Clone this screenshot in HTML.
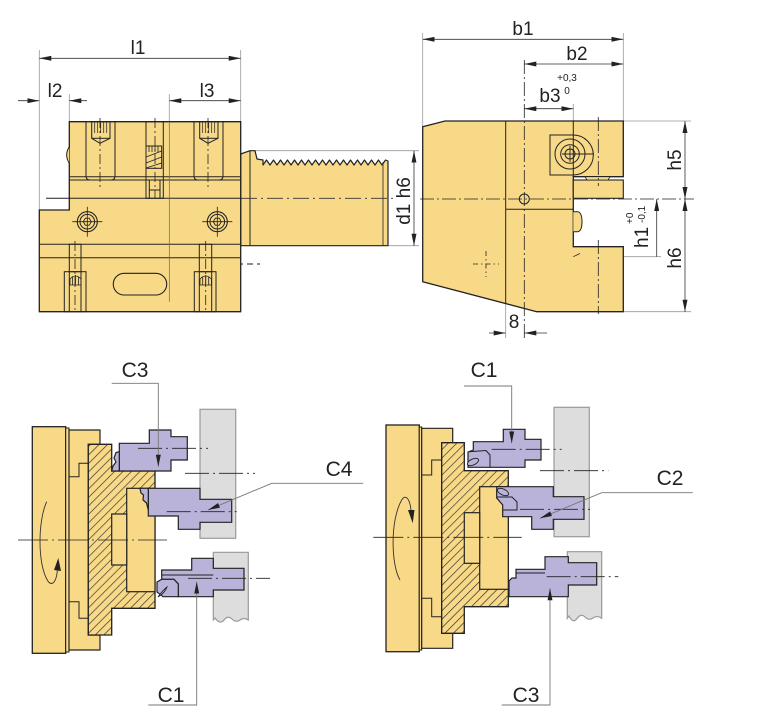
<!DOCTYPE html>
<html><head><meta charset="utf-8"><style>
html,body{margin:0;padding:0;background:#fff}
svg{display:block}
text{font-family:"Liberation Sans",Arial,sans-serif;fill:#222}
</style></head><body>
<svg width="767" height="712" viewBox="0 0 767 712" xmlns="http://www.w3.org/2000/svg">
<defs>
<marker id="ar" viewBox="0 0 12 5" refX="12" refY="2.5" markerWidth="12" markerHeight="5" markerUnits="userSpaceOnUse" orient="auto-start-reverse"><path d="M0,0 L12,2.5 L0,5 Z" fill="#222"/></marker>
<pattern id="hat" width="6" height="6" patternUnits="userSpaceOnUse" patternTransform="rotate(45)"><rect width="6" height="6" fill="#F8D987"/><line x1="0" y1="0" x2="0" y2="6" stroke="#2a2a2a" stroke-width="1.3"/></pattern>
</defs>
<rect width="767" height="712" fill="#fff"/>

<!-- ============ TOP LEFT VIEW ============ -->
<g stroke="#999" stroke-width="0.8" fill="none">
<line x1="39.3" y1="50" x2="39.3" y2="210"/>
<line x1="240.7" y1="50" x2="240.7" y2="121"/>
<line x1="69.3" y1="94" x2="69.3" y2="121"/>
<line x1="169.3" y1="94" x2="169.3" y2="302"/>
<line x1="255" y1="150.7" x2="419" y2="150.7"/>
<line x1="388" y1="245.7" x2="419" y2="245.7"/>
</g>
<g stroke="#333" stroke-width="0.8" fill="none">
<line x1="39.3" y1="58.3" x2="240.7" y2="58.3" marker-start="url(#ar)" marker-end="url(#ar)"/>
<line x1="18" y1="100.7" x2="39.3" y2="100.7" marker-end="url(#ar)"/>
<line x1="87" y1="100.7" x2="69.3" y2="100.7" marker-end="url(#ar)"/>
<line x1="169.3" y1="100.7" x2="240.7" y2="100.7" marker-start="url(#ar)" marker-end="url(#ar)"/>
<line x1="414" y1="150.7" x2="414" y2="245.7" marker-start="url(#ar)" marker-end="url(#ar)"/>
</g>
<text x="138" y="54" font-size="19" text-anchor="middle">l1</text>
<text x="55" y="97" font-size="19" text-anchor="middle">l2</text>
<text x="207" y="97" font-size="19" text-anchor="middle">l3</text>
<text transform="translate(410,201) rotate(-90)" font-size="19" text-anchor="middle">d1  h6</text>

<!-- shank -->
<polygon points="240.7,154 250,150.7 255,150.7 257,159 263,160 263,165 266.5,160 270,165 273.5,160 277,165 280.5,160 284,165 287.5,160 291,165 294.5,160 298,165 301.5,160 305,165 308.5,160 312,165 315.5,160 319,165 322.5,160 326,165 329.5,160 333,165 336.5,160 340,165 343.5,160 347,165 350.5,160 354,165 357.5,160 361,165 364.5,160 368,165 371.5,160 375,165 378.5,160 382,165 385.5,160 388,161 388,245.7 240.7,245.7" fill="#F8D987" stroke="#222" stroke-width="1.2" stroke-linejoin="round"/>
<line x1="250" y1="150.7" x2="250" y2="245.7" stroke="#222" stroke-width="1"/>
<line x1="383" y1="162" x2="383" y2="245.7" stroke="#222" stroke-width="0.8"/>
<line x1="241" y1="198.3" x2="393" y2="198.3" stroke="#333" stroke-width="0.8" stroke-dasharray="16,4,2,4"/>
<line x1="227" y1="264" x2="260" y2="264" stroke="#222" stroke-width="0.9" stroke-dasharray="6,4"/>

<!-- body -->
<polygon points="69.3,121.7 240.7,121.7 240.7,311.7 39.3,311.7 39.3,210 69.3,210" fill="#F8D987" stroke="#222" stroke-width="1.3"/>
<path d="M69.3,146.7 Q64,155 69.3,163.3" fill="#F8D987" stroke="#222" stroke-width="1"/>
<g stroke="#222" stroke-width="1" fill="none">
<line x1="69.3" y1="176.7" x2="240.7" y2="176.7"/>
<line x1="69.3" y1="180" x2="240.7" y2="180"/>
<line x1="46" y1="198.3" x2="240.7" y2="198.3"/>
<line x1="39.3" y1="244.3" x2="240.7" y2="244.3"/>
<line x1="39.3" y1="257.7" x2="240.7" y2="257.7"/>
<!-- upper screws -->
<path d="M86,121.7 V176 Q86,180 90,180 H111 Q115,180 115,176 V121.7"/>
<rect x="91.7" y="121.7" width="18.3" height="16.6"/>
<polyline points="91.7,138.3 100,143.3 110,138.3"/>
<path d="M94.7,121.7V133 M97.7,121.7V133 M100.7,121.7V133 M103.7,121.7V133 M106.7,121.7V133" stroke-width="0.7"/>
<path d="M194,121.7 V176 Q194,180 198,180 H219 Q223,180 223,176 V121.7"/>
<rect x="199.7" y="121.7" width="18.3" height="16.6"/>
<polyline points="199.7,138.3 208,143.3 218,138.3"/>
<path d="M202.7,121.7V133 M205.7,121.7V133 M208.7,121.7V133 M211.7,121.7V133 M214.7,121.7V133" stroke-width="0.7"/>
<!-- middle slot -->
<rect x="146" y="121.7" width="17.3" height="76.6"/>
<line x1="149.3" y1="180" x2="149.3" y2="198.3"/>
<line x1="160" y1="180" x2="160" y2="198.3"/>
<line x1="149.3" y1="190" x2="160" y2="190"/>
<rect x="146" y="146" width="15.7" height="22.3"/>
<path d="M146,157 L161.7,151 M146,163 L161.7,157 M146,168 L161.7,163 M149,146 V152 M152,146V152 M155,146V152 M158,146V152" stroke-width="0.8"/>
</g>
<g stroke="#222" stroke-width="0.8" fill="none" stroke-dasharray="10,3,2,3">
<line x1="100" y1="118" x2="100" y2="187"/>
<line x1="208" y1="118" x2="208" y2="187"/>
<line x1="155" y1="118" x2="155" y2="198"/>
</g>
<!-- lower screw heads -->
<g stroke="#222" fill="none">
<circle cx="87.3" cy="221.7" r="10" stroke-width="1.1"/>
<circle cx="87.3" cy="221.7" r="7.3" stroke-width="1"/>
<polygon points="91.3,221.7 89.3,225.2 85.3,225.2 83.3,221.7 85.3,218.2 89.3,218.2" stroke-width="0.9"/>
<path d="M72.3,221.7H102.3 M87.3,206.7V236.7" stroke-width="0.8"/>
<circle cx="217.3" cy="221.7" r="10" stroke-width="1.1"/>
<circle cx="217.3" cy="221.7" r="7.3" stroke-width="1"/>
<polygon points="221.3,221.7 219.3,225.2 215.3,225.2 213.3,221.7 215.3,218.2 219.3,218.2" stroke-width="0.9"/>
<path d="M202.3,221.7H232.3 M217.3,206.7V236.7" stroke-width="0.8"/>
</g>
<!-- bolts -->
<g stroke="#222" stroke-width="1" fill="none">
<rect x="69.3" y="244.3" width="11.7" height="27.4"/>
<rect x="64.3" y="271.7" width="21.7" height="40"/>
<line x1="69.3" y1="271.7" x2="69.3" y2="311.7"/>
<line x1="81" y1="271.7" x2="81" y2="311.7"/>
<path d="M70,285 V279 Q75.5,273 81,279 V285 Z M72.5,276.5V285 M75.5,275V285 M78.5,276.5V285" stroke-width="0.8"/>
<rect x="199.3" y="244.3" width="12.4" height="27.4"/>
<rect x="194.3" y="271.7" width="21.7" height="40"/>
<line x1="199.3" y1="271.7" x2="199.3" y2="311.7"/>
<line x1="211.7" y1="271.7" x2="211.7" y2="311.7"/>
<path d="M200,285 V279 Q205.7,273 211.4,279 V285 Z M202.7,276.5V285 M205.7,275V285 M208.7,276.5V285" stroke-width="0.8"/>
<line x1="75" y1="241" x2="75" y2="311.7" stroke-dasharray="10,3,2,3" stroke-width="0.8"/>
<line x1="205.7" y1="241" x2="205.7" y2="311.7" stroke-dasharray="10,3,2,3" stroke-width="0.8"/>
<rect x="113.3" y="273.3" width="53.4" height="21.7" rx="10.8" stroke-width="1.1"/>
</g>
<line x1="169.3" y1="121.7" x2="169.3" y2="301.7" stroke="#666" stroke-width="0.7"/>

<!-- ============ TOP RIGHT VIEW ============ -->
<g stroke="#999" stroke-width="0.8" fill="none">
<line x1="422.7" y1="33" x2="422.7" y2="126.7"/>
<line x1="623.3" y1="33" x2="623.3" y2="121"/>
<line x1="573.3" y1="104" x2="573.3" y2="121"/>
<line x1="623.3" y1="121" x2="691" y2="121"/>
<line x1="623.3" y1="311.7" x2="691" y2="311.7"/>
<line x1="573.3" y1="256.7" x2="661" y2="256.7"/>
<line x1="505.7" y1="303" x2="505.7" y2="338"/>
</g>
<g stroke="#333" stroke-width="0.8" fill="none">
<line x1="422.7" y1="39.3" x2="623.3" y2="39.3" marker-start="url(#ar)" marker-end="url(#ar)"/>
<line x1="524.3" y1="64" x2="623.3" y2="64" marker-start="url(#ar)" marker-end="url(#ar)"/>
<line x1="524.3" y1="108.7" x2="573.3" y2="108.7" marker-start="url(#ar)" marker-end="url(#ar)"/>
<line x1="685" y1="121" x2="685" y2="199" marker-start="url(#ar)" marker-end="url(#ar)"/>
<line x1="685" y1="199" x2="685" y2="311.7" marker-start="url(#ar)" marker-end="url(#ar)"/>
<line x1="656.7" y1="256.7" x2="656.7" y2="199" marker-end="url(#ar)"/>
<line x1="489" y1="333" x2="505.7" y2="333" marker-end="url(#ar)"/>
<line x1="547" y1="333" x2="524.3" y2="333" marker-end="url(#ar)"/>
</g>
<text x="523" y="35" font-size="19" text-anchor="middle">b1</text>
<text x="577" y="60" font-size="19" text-anchor="middle">b2</text>
<text x="550" y="102" font-size="19" text-anchor="middle">b3</text>
<text x="567" y="81" font-size="10" text-anchor="middle">+0,3</text>
<text x="567" y="94" font-size="10" text-anchor="middle">0</text>
<text transform="translate(681,160) rotate(-90)" font-size="19" text-anchor="middle">h5</text>
<text transform="translate(681,258) rotate(-90)" font-size="19" text-anchor="middle">h6</text>
<text transform="translate(648,248) rotate(-90)" font-size="19">h1</text>
<text transform="translate(645,223) rotate(-90)" font-size="10">-0,1</text>
<text transform="translate(633,224) rotate(-90)" font-size="10">+0</text>
<text x="514" y="328" font-size="19" text-anchor="middle">8</text>

<polygon points="422.7,126.7 445,121 623.3,121 623.3,176.7 573.3,176.7 573.3,246.7 623.3,246.7 623.3,311.7 536.7,311.7 422.7,281.7" fill="#F8D987" stroke="#222" stroke-width="1.3"/>
<rect x="573.3" y="180" width="50" height="18.3" fill="#F8D987" stroke="#222" stroke-width="1.1"/>
<polygon points="585,176.7 610,176.7 608,180 587,180" fill="#F8D987" stroke="#222" stroke-width="0.8"/>
<g stroke="#222" stroke-width="1" fill="none">
<line x1="505.7" y1="121" x2="505.7" y2="303.5"/>
<line x1="505.7" y1="209.3" x2="573.3" y2="209.3"/>
<line x1="573.3" y1="121" x2="573.3" y2="135"/>
<path d="M550,135 H573.3 A20,20 0 0 1 573.3,175 H550 Z"/>
<line x1="573.3" y1="135" x2="573.3" y2="176.7"/>
<circle cx="570" cy="154" r="15"/>
<circle cx="570" cy="154" r="9.3"/>
<circle cx="570" cy="154" r="5"/>
<path d="M562,154 H594 M570,146 V162" stroke-width="0.9"/>
<path d="M573.3,211.7 H578 Q582,213 582,221.7 Q582,230.5 578,231.7 H573.3" fill="#F8D987"/>
<path d="M573.3,256.7 L580,253.5" stroke-width="0.8"/>
<circle cx="524.3" cy="199" r="5"/>
</g>
<g stroke="#222" stroke-width="0.8" fill="none" stroke-dasharray="14,3,2,3">
<line x1="420" y1="199" x2="694" y2="199"/>
<line x1="524.3" y1="60" x2="524.3" y2="338"/>
<line x1="598.3" y1="117" x2="598.3" y2="186"/>
<line x1="598.3" y1="240" x2="598.3" y2="314"/>
</g>
<path d="M473,264 H499 M486,251 V277" stroke="#222" stroke-width="0.8" stroke-dasharray="5,3,1.5,3"/>

<!-- ============ BOTTOM LEFT VIEW ============ -->
<rect x="200" y="409.3" width="35.7" height="129" fill="#DDDDDD" stroke="#9a9a9a" stroke-width="1.2"/>
<path d="M213.3,620 V552.3 H248.3 V620 Q244,617 240,620 T232,619 T224,620 T215,618 Z" fill="#DDDDDD" stroke="#9a9a9a" stroke-width="1.2"/>
<rect x="32.3" y="426.7" width="33.4" height="226.6" fill="#F8D987" stroke="#222" stroke-width="1.3"/>
<rect x="65.7" y="428" width="3.3" height="224" fill="#F8D987" stroke="#222" stroke-width="1"/>
<polygon points="69,430 100,430 100,444.3 88.3,444.3 88.3,635 100,635 100,650 69,650" fill="#F8D987" stroke="#222" stroke-width="1.2"/>
<polyline points="88.3,463.3 79,463.3 79,476.7 69,476.7" fill="none" stroke="#222" stroke-width="1"/>
<polyline points="69,601.7 79,601.7 79,618.3 88.3,618.3" fill="none" stroke="#222" stroke-width="1"/>
<polygon points="88.3,444.3 111.7,444.3 111.7,471 155,471 155,608.3 111.7,608.3 111.7,635 88.3,635" fill="url(#hat)" stroke="#222" stroke-width="1.3"/>
<rect x="126.7" y="488.3" width="28.3" height="103.4" fill="#F8D987" stroke="#222" stroke-width="1.2"/>
<rect x="111.7" y="514" width="15" height="51" fill="#F8D987" stroke="#222" stroke-width="1.2"/>
<line x1="18" y1="540" x2="167" y2="540" stroke="#222" stroke-width="0.8" stroke-dasharray="30,4,2,4"/>
<path d="M46.7,501.7 C38,520 37,565 48.3,581.7 C53,587 57,580 57.5,568" fill="none" stroke="#333" stroke-width="0.9"/>
<polygon points="58.3,558 61,571 54,570" fill="#222"/>

<!-- tools left -->
<g stroke="#222" stroke-width="1.2" fill="#B9B2D9">
<polygon points="119.3,443.3 149.3,443.3 149.3,430 171,430 171,436.7 187.3,436.7 187.3,460 171,460 171,471 119.3,471"/>
<path d="M119.3,451.7 L116,452.5 L114,458 L116,462 L113,466 L111.7,471 L119.3,471 Z"/>
<polygon points="148.3,488.3 200,488.3 200,499.3 231.7,499.3 231.7,522.3 200,522.3 200,529.3 178.3,529.3 178.3,516 148.3,516"/>
<path d="M148.3,488.3 L140,488.3 L141,493 L143.5,495 L143,500 L146.5,503 L148.3,510 Z"/>
<polygon points="161.7,570 191.7,570 191.7,558.3 213.3,558.3 213.3,568.3 244,568.3 244,590 213.3,590 213.3,596.7 178.3,596.7 178.3,584 174,579.3 161.7,579.3"/>
<path d="M161.7,579.3 L174,579.3 L178.3,584 L178.3,596.7 L163,596.7 L157,592 L157,582 Z"/>
</g>
<path d="M158,597 Q163,590 167,587 Q165,593 158,597 Z" fill="#B9B2D9" stroke="#222" stroke-width="0.9"/>
<line x1="161.7" y1="575" x2="213.3" y2="575" stroke="#222" stroke-width="1"/>
<g stroke="#222" stroke-width="0.8" fill="none" stroke-dasharray="24,4,2,4">
<line x1="138" y1="448.3" x2="208" y2="448.3"/>
<line x1="185" y1="473.3" x2="255" y2="473.3"/>
<line x1="166.7" y1="511.7" x2="236.7" y2="511.7"/>
<line x1="188" y1="578.3" x2="270" y2="578.3"/>
</g>
<g stroke="#777" stroke-width="0.9" fill="none">
<polyline points="111.7,383.3 158.3,383.3 158.3,466.7" marker-end="url(#ar)"/>
<polyline points="363.3,483.3 271.7,483.3 208,510" marker-end="url(#ar)"/>
<polyline points="148.3,705 196.7,705 196.7,581.7" marker-end="url(#ar)"/>
</g>
<text x="135" y="377" font-size="21" text-anchor="middle">C3</text>
<text x="339" y="476" font-size="21" text-anchor="middle">C4</text>
<text x="171" y="702" font-size="21" text-anchor="middle">C1</text>

<!-- ============ BOTTOM RIGHT VIEW ============ -->
<rect x="554" y="407.3" width="35.3" height="129.4" fill="#DDDDDD" stroke="#9a9a9a" stroke-width="1.2"/>
<path d="M567.3,618.3 V551.7 H601.7 V618.3 Q597,615 593,618 T585,617 T577,618.5 T569,616 Z" fill="#DDDDDD" stroke="#9a9a9a" stroke-width="1.2"/>
<rect x="386" y="425" width="33.3" height="226.7" fill="#F8D987" stroke="#222" stroke-width="1.3"/>
<rect x="419.3" y="427" width="2.4" height="223" fill="#F8D987" stroke="#222" stroke-width="1"/>
<polygon points="421.7,428.3 452.7,428.3 452.7,442.7 441.7,442.7 441.7,633.3 452.7,633.3 452.7,648.3 421.7,648.3" fill="#F8D987" stroke="#222" stroke-width="1.2"/>
<polyline points="441.7,460 431.7,460 431.7,475 421.7,475" fill="none" stroke="#222" stroke-width="1"/>
<polyline points="421.7,598.3 431.7,598.3 431.7,616.7 441.7,616.7" fill="none" stroke="#222" stroke-width="1"/>
<polygon points="441.7,442.7 464.3,442.7 464.3,470.7 508.3,470.7 508.3,606.7 464.3,606.7 464.3,633.3 441.7,633.3" fill="url(#hat)" stroke="#222" stroke-width="1.3"/>
<rect x="479.7" y="486.7" width="28.6" height="102.6" fill="#F8D987" stroke="#222" stroke-width="1.2"/>
<rect x="464.3" y="512.7" width="15.4" height="50.6" fill="#F8D987" stroke="#222" stroke-width="1.2"/>
<line x1="373.3" y1="537.3" x2="521.7" y2="537.3" stroke="#222" stroke-width="0.8" stroke-dasharray="30,4,2,4"/>
<path d="M400,580 C391,565 390,520 401.7,500 C406,493 410,500 411,510" fill="none" stroke="#333" stroke-width="0.9"/>
<polygon points="412.7,523.3 408,510 414.5,510" fill="#222"/>

<g stroke="#222" stroke-width="1.2" fill="#B9B2D9">
<polygon points="473.3,441.7 503.3,441.7 503.3,429.3 525,429.3 525,439.3 541,439.3 541,460 525,460 525,467.3 468,467.3 468,452 473.3,450"/>
<polygon points="496.7,486.7 553.3,486.7 553.3,496.7 584,496.7 584,519.3 553.3,519.3 553.3,529.3 531.7,529.3 531.7,516.7 502.7,516.7 502.7,505 496.7,498"/>
<polygon points="516,569.3 545,569.3 545,556.7 568.3,556.7 568.3,562.7 596.7,562.7 596.7,585 568.3,585 568.3,596.7 509,596.7 509,581 512,578 516,578"/>
</g>
<g stroke="#222" stroke-width="1" fill="none">
<polyline points="469,451.7 486,450.5 490,455 490,467.3"/>
<polyline points="497,497 512,497 517,502 517,510 503,510"/>
<line x1="516" y1="573" x2="545" y2="573"/>
</g>
<g fill="#B9B2D9" stroke="#222" stroke-width="0.9">
<ellipse cx="473" cy="462" rx="6" ry="3" transform="rotate(-25 473 462)"/>
<ellipse cx="503" cy="492" rx="6" ry="3" transform="rotate(25 503 492)"/>
</g>
<g stroke="#222" stroke-width="0.8" fill="none" stroke-dasharray="24,4,2,4">
<line x1="491.7" y1="449.3" x2="561.7" y2="449.3"/>
<line x1="540" y1="470.7" x2="608.3" y2="470.7"/>
<line x1="520" y1="509.3" x2="590" y2="509.3"/>
<line x1="546.7" y1="576.7" x2="618.3" y2="576.7"/>
</g>
<g stroke="#777" stroke-width="0.9" fill="none">
<polyline points="464,386 511.7,386 511.7,443.3" marker-end="url(#ar)"/>
<polyline points="692.7,492.7 601.7,492.7 540,518.3" marker-end="url(#ar)"/>
<polyline points="501.7,705 550,705 550,588.3" marker-end="url(#ar)"/>
</g>
<text x="484" y="377" font-size="21" text-anchor="middle">C1</text>
<text x="670" y="485" font-size="21" text-anchor="middle">C2</text>
<text x="526" y="702" font-size="21" text-anchor="middle">C3</text>
</svg>
</body></html>
